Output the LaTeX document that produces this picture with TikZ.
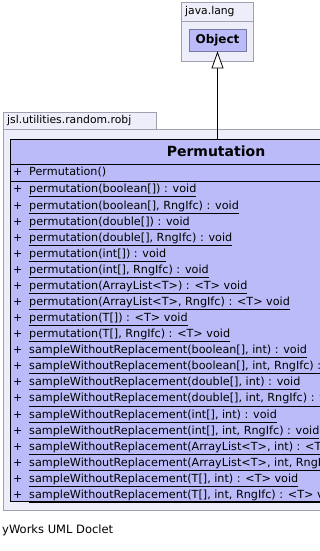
\documentclass[tikz,border=0pt]{standalone}
\usepackage{fontspec}
\setmainfont{DejaVu Sans}
\usetikzlibrary{arrows.meta}
\definecolor{pkgfill}{RGB}{238,238,250}
\definecolor{pkgline}{RGB}{160,160,176}
\definecolor{clsfill}{RGB}{187,187,250}
\definecolor{objline}{RGB}{120,120,160}
\tikzset{
  pkgbox/.style={draw=pkgline, fill=pkgfill, line width=0.8pt},
  pkglabel/.style={anchor=mid west, inner sep=0pt, font=\fontsize{10.8}{12}\selectfont},
  classbox/.style={draw=black, fill=clsfill, line width=0.9pt, inner sep=0pt, anchor=north west},
  objbox/.style={draw=objline, fill=clsfill, line width=0.8pt, inner sep=0pt,
    font=\fontsize{12}{14}\selectfont\bfseries},
  title/.style={inner sep=0pt, font=\fontsize{14}{16}\selectfont\bfseries},
  vis/.style={anchor=mid west, inner sep=0pt, font=\fontsize{11}{13}\selectfont},
  member/.style={anchor=mid west, inner sep=0pt, font=\fontsize{11.2}{13}\selectfont},
  inherit/.style={-{Triangle[open, length=17pt, width=12pt, fill=white]}, line width=0.8pt}
}
\begin{document}
\begin{tikzpicture}[x=1pt, y=-1pt]
  \useasboundingbox (0,0) rectangle (320,551);
  \fill[white] (0,0) rectangle (320,551);
  \clip (0,0) rectangle (320,551);

  % package java.lang
  \draw[pkgbox] (181,2) rectangle (253,61);
  \draw[pkgline, line width=0.8pt] (181,21) -- (253,21);
  \node[pkglabel] (pkgjava) at (185,12) {java.lang};
  \node[objbox, minimum width=57pt, minimum height=22pt] (obj) at (217.5,40) {Object};

  % package jsl.utilities.random.robj
  \draw[pkgbox] (3,112) rectangle (156,129);
  \draw[pkgbox] (3,129) rectangle (340,510);
  \node[pkglabel] (pkgjsl) at (7,121) {jsl.utilities.random.robj};

  % class Permutation
  \node[classbox, minimum width=412pt, minimum height=362pt] (cls) at (10,139) {};
  \draw[line width=0.9pt] (10,164) -- (422,164);
  \draw[line width=0.9pt] (10,181) -- (422,181);
  \node[title] (clsname) at (216,151.5) {Permutation};

  \node[vis] (v0) at (13,173) {+};
  \node[member] (m0) at (29,173) {Permutation()};

  \foreach \txt [count=\i from 0] in {
    {permutation(boolean[]) : void},
    {permutation(boolean[], RngIfc) : void},
    {permutation(double[]) : void},
    {permutation(double[], RngIfc) : void},
    {permutation(int[]) : void},
    {permutation(int[], RngIfc) : void},
    {permutation(ArrayList<T>) : <T> void},
    {permutation(ArrayList<T>, RngIfc) : <T> void},
    {permutation(T[]) : <T> void},
    {permutation(T[], RngIfc) : <T> void},
    {sampleWithoutReplacement(boolean[], int) : void},
    {sampleWithoutReplacement(boolean[], int, RngIfc) : void},
    {sampleWithoutReplacement(double[], int) : void},
    {sampleWithoutReplacement(double[], int, RngIfc) : void},
    {sampleWithoutReplacement(int[], int) : void},
    {sampleWithoutReplacement(int[], int, RngIfc) : void},
    {sampleWithoutReplacement(ArrayList<T>, int) : <T> void},
    {sampleWithoutReplacement(ArrayList<T>, int, RngIfc) : <T> void},
    {sampleWithoutReplacement(T[], int) : <T> void},
    {sampleWithoutReplacement(T[], int, RngIfc) : <T> void}
  }{
    \pgfmathsetmacro{\yy}{190.2+16.08*\i}
    \node[vis] (v\i+1) at (13,\yy) {+};
    \node[member] (m\i+1) at (29,\yy) {\underline{\txt}};
  }

  % generalization
  \draw[inherit] (cls.north -| obj.south) -- (obj.south);

  \node[pkglabel, font=\fontsize{11.5}{13}\selectfont] (footer) at (2,531) {yWorks UML Doclet};
\end{tikzpicture}
\end{document}
